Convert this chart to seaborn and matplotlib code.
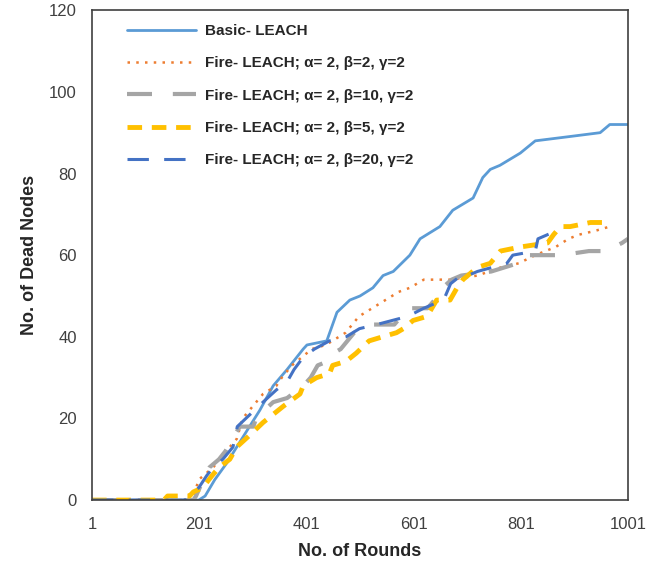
import numpy as np
import pandas as pd
import seaborn as sns
from matplotlib import pyplot as plt

# rounds / dead nodes
basic_rounds = [1, 200, 212, 230, 252, 271, 290, 314, 339, 365, 395, 402, 439, 458, 482, 501, 525, 544,
                563, 594, 613, 650, 674, 712, 730, 744, 762, 800, 828, 889, 949, 967, 1001]
basic_dead = [0, 0, 1, 5, 9, 13, 17, 22, 28, 32, 37, 38, 39, 46, 49, 50, 52, 55,
              56, 60, 64, 67, 71, 74, 79, 81, 82, 85, 88, 89, 90, 92, 92]

fire_b2_rounds = [1, 185, 193, 200, 227, 258, 271, 282, 301, 320, 345, 355, 374, 411, 437, 474, 499, 536,
                  573, 594, 620, 670, 720, 764, 797, 828, 866, 890, 909, 941, 967]
fire_b2_dead = [0, 0, 2, 5, 8, 13, 15, 20, 23, 26, 28, 30, 33, 37, 38, 41, 45, 48,
                51, 52, 54, 54, 55, 57, 58, 60, 62, 64, 65, 66, 67]

fire_b10_rounds = [1, 190, 195, 212, 220, 238, 250, 267, 277, 302, 307, 314, 339, 365, 395, 409, 422, 441,
                   452, 465, 490, 508, 527, 565, 578, 590, 627, 640, 646, 672, 690, 746, 795, 810, 853,
                   877, 928, 960, 990, 1001]
fire_b10_dead = [0, 0, 1, 6, 8, 10, 12, 16, 18, 18, 20, 21, 24, 25, 28, 30, 33, 34,
                 36, 37, 41, 42, 43, 43, 45, 47, 47, 49, 51, 54, 55, 56, 58, 60, 60,
                 60, 61, 61, 63, 64]

fire_b5_rounds = [1, 135, 142, 183, 190, 207, 225, 238, 258, 271, 296, 320, 339, 358, 389, 395, 420, 444,
                  450, 475, 494, 518, 543, 569, 582, 600, 626, 644, 669, 682, 693, 720, 744, 763, 800,
                  851, 862, 875, 893, 931, 970]
fire_b5_dead = [0, 0, 1, 1, 2, 3, 6, 8, 10, 13, 16, 19, 21, 23, 26, 28, 30, 31,
                33, 34, 36, 39, 40, 41, 42, 44, 45, 49, 49, 52, 54, 57, 58, 61, 62,
                63, 65, 67, 67, 68, 68]

fire_b20_rounds = [1, 175, 190, 200, 215, 227, 245, 264, 272, 296, 320, 345, 365, 378, 395, 416, 444, 475,
                   500, 532, 590, 620, 638, 657, 670, 689, 702, 720, 775, 786, 828, 833, 868]
fire_b20_dead = [0, 0, 2, 3, 6, 8, 10, 13, 18, 21, 24, 27, 29, 32, 35, 37, 39, 40,
                 42, 43, 45, 47, 48, 49, 53, 55, 55, 56, 58, 60, 61, 64, 66]

series = [
    ('Basic- LEACH', basic_rounds, basic_dead, '#5B9BD5', '-', 2.0),
    ('Fire- LEACH; α= 2, β=2, γ=2', fire_b2_rounds, fire_b2_dead, '#ED7D31', (0, (1, 2.5)), 1.8),
    ('Fire- LEACH; α= 2, β=10, γ=2', fire_b10_rounds, fire_b10_dead, '#A5A5A5', (0, (6, 5)), 3.0),
    ('Fire- LEACH; α= 2, β=5, γ=2', fire_b5_rounds, fire_b5_dead, '#FFC000', (0, (3, 2)), 3.5),
    ('Fire- LEACH; α= 2, β=20, γ=2', fire_b20_rounds, fire_b20_dead, '#4472C4', (0, (7, 5)), 2.2),
]

sns.set_style('white')
plt.rcParams['font.family'] = ['Liberation Sans', 'DejaVu Sans']

fig = plt.figure(figsize=(6.64, 5.67), dpi=100)
ax = fig.add_axes([0.1386, 0.118, 0.8072, 0.864])

for label, x, y, color, ls, lw in series:
    df = pd.DataFrame({'round': x, 'dead': y})
    sns.lineplot(data=df, x='round', y='dead', ax=ax, color=color, linestyle=ls,
                 linewidth=lw, label=label)

ax.set_xlim(1, 1001)
ax.set_ylim(0, 120)
ax.set_xticks([1, 201, 401, 601, 801, 1001])
ax.set_yticks(np.arange(0, 121, 20))
ax.tick_params(axis='y', direction='out', length=5, width=1, color='#404040',
               labelsize=12, labelcolor='#404040', pad=6)
ax.tick_params(axis='x', length=0, labelsize=12, labelcolor='#404040', pad=12)
for sp in ax.spines.values():
    sp.set_color('#404040')
    sp.set_linewidth(1.2)

ax.set_xlabel('No. of Rounds', fontsize=13, fontweight='bold', labelpad=8)
ax.set_ylabel('No. of Dead Nodes', fontsize=13, fontweight='bold', labelpad=8)

leg = ax.legend(loc='upper left', bbox_to_anchor=(0.04, 1.0), frameon=False,
                handlelength=4.5, labelspacing=1.2, handletextpad=0.6,
                prop={'weight': 'bold', 'size': 11})

fig.savefig('out.png', dpi=100)
